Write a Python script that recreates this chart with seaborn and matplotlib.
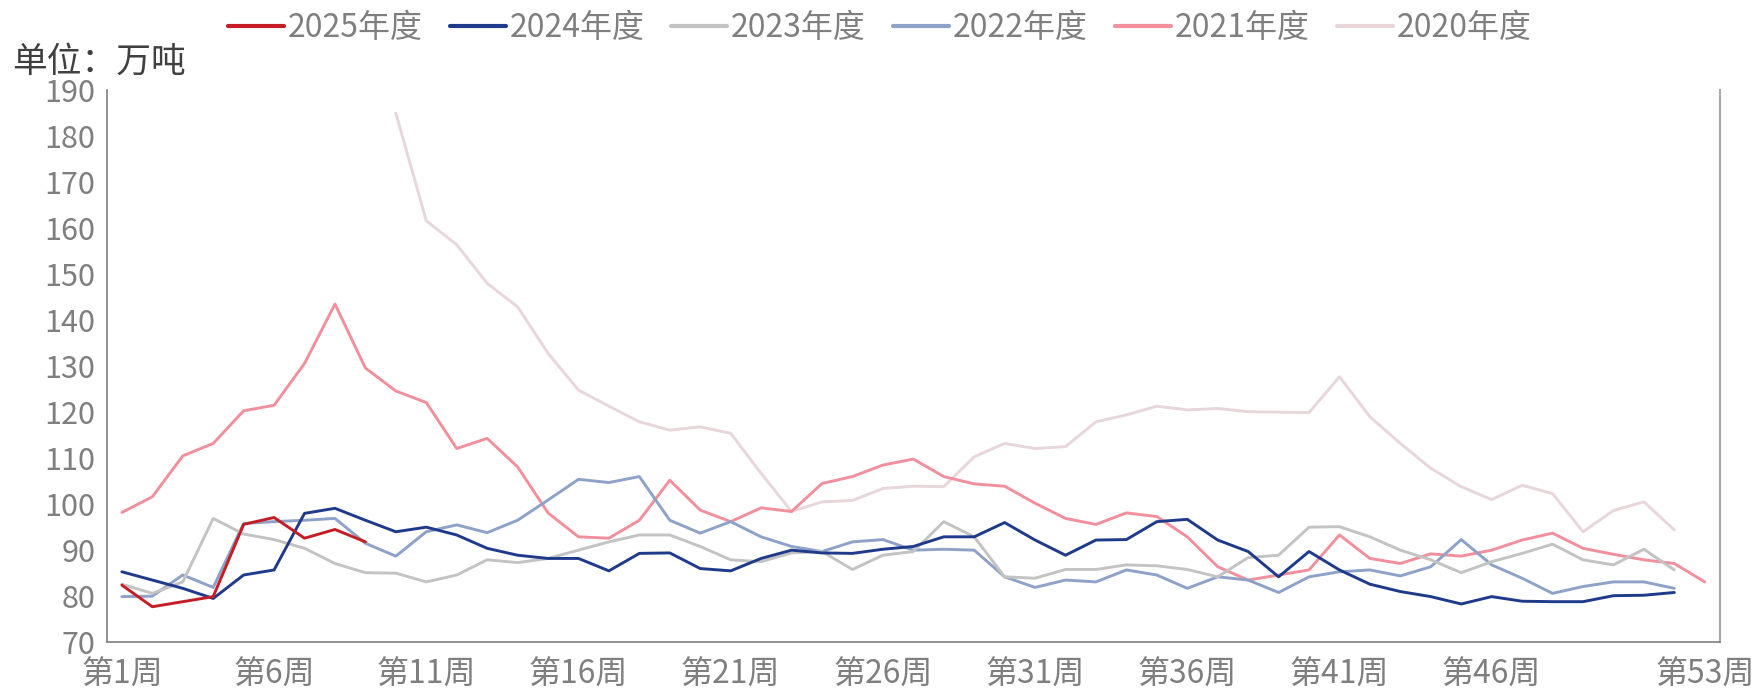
import matplotlib
matplotlib.use("Agg")
import matplotlib.pyplot as plt
import pandas as pd
import seaborn as sns

# weekly volumes (万吨), week 1..53, None = no data
weeks = list(range(1, 54))

s2025 = [82.3, 77.6, 78.7, 79.8, 95.5, 97.0, 92.5, 94.4, 91.7] + [None] * 44

s2024 = [85.2, 83.4, 81.6, 79.4, 84.5, 85.6, 97.9, 99.0, 96.4, 93.9,
         94.9, 93.2, 90.3, 88.8, 88.1, 88.1, 85.4, 89.2, 89.3, 85.9,
         85.4, 88.1, 89.9, 89.3, 89.2, 90.1, 90.7, 92.8, 92.8, 95.9,
         92.1, 88.8, 92.1, 92.2, 96.1, 96.6, 92.1, 89.6, 84.1, 89.6,
         85.6, 82.5, 80.9, 79.8, 78.2, 79.8, 78.8, 78.7, 78.7, 80.0,
         80.1, 80.7, None]

s2023 = [82.5, 80.5, 83.0, 96.8, 93.4, 92.2, 90.3, 87.0, 85.0, 84.9,
         83.0, 84.5, 87.8, 87.2, 88.1, 89.9, 91.7, 93.2, 93.2, 90.7,
         87.8, 87.4, 89.3, 89.6, 85.7, 88.8, 89.6, 96.1, 92.8, 84.1,
         83.8, 85.7, 85.7, 86.7, 86.5, 85.7, 84.1, 88.3, 88.8, 94.9,
         95.0, 92.8, 89.9, 87.8, 85.0, 87.4, 89.2, 91.2, 87.8, 86.7,
         90.1, 85.6, None]

s2022 = [79.8, 79.9, 84.5, 81.8, 95.7, 96.1, 96.4, 96.8, 91.4, 88.6,
         93.9, 95.4, 93.7, 96.4, 100.8, 105.3, 104.6, 105.9, 96.4, 93.6,
         96.1, 92.8, 90.7, 89.6, 91.7, 92.2, 89.9, 90.1, 89.9, 84.1,
         81.8, 83.4, 83.0, 85.6, 84.5, 81.6, 84.1, 83.4, 80.7, 84.1,
         85.2, 85.6, 84.3, 86.3, 92.2, 86.7, 83.8, 80.5, 82.0, 83.0,
         83.0, 81.6, None]

s2021 = [98.1, 101.5, 110.4, 113.1, 120.2, 121.4, 130.5, 143.4, 129.5, 124.5,
         122.0, 112.0, 114.2, 108.0, 98.0, 92.8, 92.5, 96.4, 105.1, 98.6,
         96.1, 99.1, 98.3, 104.4, 105.9, 108.4, 109.7, 105.9, 104.3, 103.8,
         100.1, 96.8, 95.5, 98.0, 97.2, 92.8, 86.3, 83.4, 84.5, 85.6,
         93.2, 88.1, 87.0, 89.1, 88.6, 89.9, 92.1, 93.6, 90.3, 89.0,
         87.8, 87.0, 83.0]

s2020 = [None] * 9 + [
         184.9, 161.5, 156.3, 147.9, 142.8, 132.7, 124.7, 121.2, 117.8, 116.0,
         116.7, 115.3, 106.6, 98.3, 100.4, 100.7, 103.3, 103.8, 103.7, 110.2,
         113.1, 112.0, 112.4, 117.8, 119.3, 121.2, 120.4, 120.7, 120.0, 119.9,
         119.8, 127.6, 118.9, 113.1, 107.7, 103.7, 100.9, 104.0, 102.2, 93.9,
         98.5, 100.4, 94.3, None]

years = ["2025年度", "2024年度", "2023年度", "2022年度", "2021年度", "2020年度"]
colors = {"2025年度": "#C41E24", "2024年度": "#1F3A8A", "2023年度": "#C3C3C3",
          "2022年度": "#8EA2C9", "2021年度": "#F1909C", "2020年度": "#E8D6DA"}

tick_weeks = [1, 6, 11, 16, 21, 26, 31, 36, 41, 46, 53]
tick_labels = [f"第{w}周" for w in tick_weeks]

df = pd.DataFrame({"week": weeks, "2025年度": s2025, "2024年度": s2024,
                   "2023年度": s2023, "2022年度": s2022,
                   "2021年度": s2021, "2020年度": s2020})
df = df.melt(id_vars="week", var_name="year", value_name="value").dropna()

sns.set_theme(style="white")
plt.rcParams["font.family"] = ["Liberation Sans Narrow", "Noto Sans CJK SC", "DejaVu Sans"]

fig = plt.figure(figsize=(17.63, 6.88), dpi=100)
ax = fig.add_axes([0.0605, 0.0673, 0.9151, 0.8023])

sns.lineplot(data=df, x="week", y="value", hue="year", hue_order=years,
             palette=colors, linewidth=2.1, estimator=None, ax=ax)

# newest year on top
for i, line in enumerate(ax.lines[:len(years)]):
    line.set_zorder(10 - i)
    line.set_solid_joinstyle("round")

ax.set_xlim(0.5, 53.5)
ax.set_ylim(70, 190)
ax.set_yticks(range(70, 191, 10))
ax.set_xticks([0.5 + 5 * k for k in range(11)] + [53.5])
ax.set_xticklabels([])
ax.set_xticks(tick_weeks, minor=True)
ax.set_xticklabels(tick_labels, minor=True)
ax.set_xlabel("")
ax.set_ylabel("")

gray = "#7F7F7F"
ax.tick_params(axis="y", which="major", direction="out", length=6, width=1,
               color=gray, labelcolor=gray, labelsize=22, pad=2)
ax.tick_params(axis="x", which="major", direction="out", length=6, width=1,
               color=gray)
ax.tick_params(axis="x", which="minor", length=0, labelcolor=gray,
               labelsize=23, pad=12)

for side in ["left", "bottom"]:
    ax.spines[side].set_color(gray)
    ax.spines[side].set_linewidth(1.2)
ax.spines["right"].set_color("#A6A6A6")
ax.spines["right"].set_linewidth(1.5)
ax.spines["top"].set_visible(False)

handles, labels = ax.get_legend_handles_labels()
ax.get_legend().remove()
for h in handles:
    h.set_linewidth(3)
fig.legend(handles, labels, loc="center", bbox_to_anchor=(0.499, 0.959),
           ncol=6, frameon=False, fontsize=23, handlelength=1.75,
           handletextpad=0.12, columnspacing=0.85, labelcolor=gray)

fig.text(12 / 1763, 1 - 62 / 688, "单位：万吨", ha="left", va="center",
         fontsize=25, color="#404040")

fig.savefig("out.png", dpi=100)
